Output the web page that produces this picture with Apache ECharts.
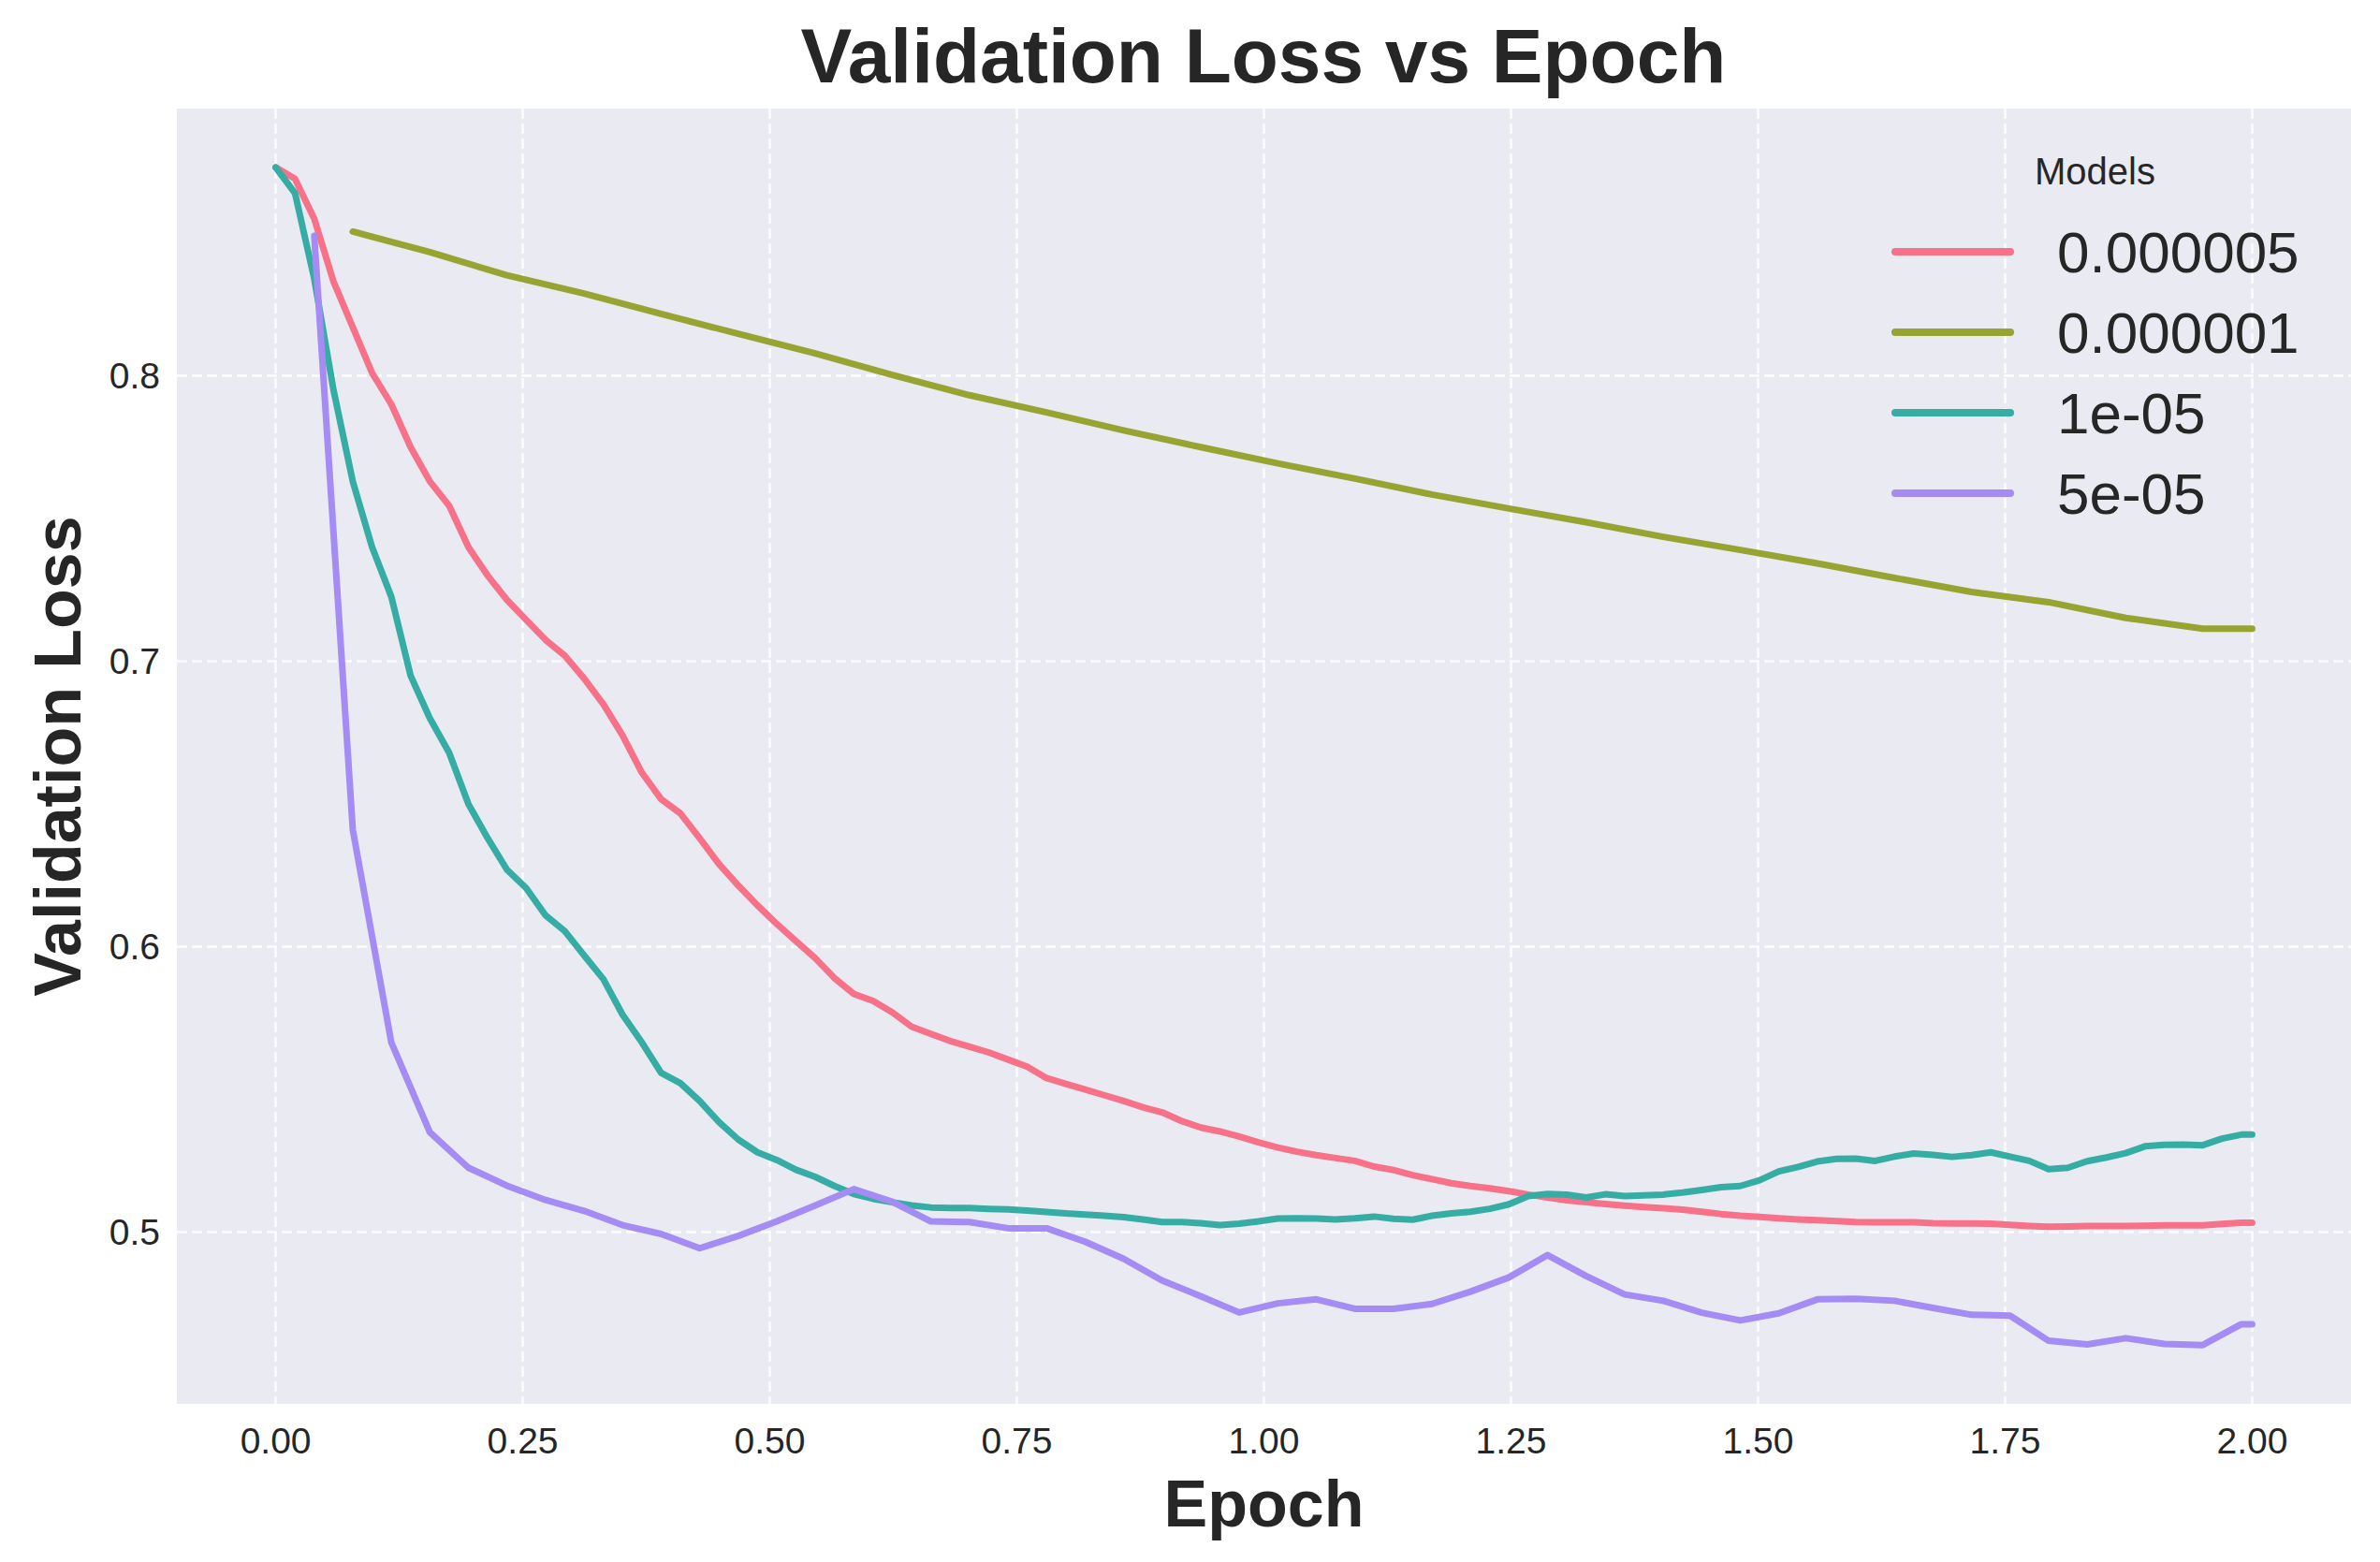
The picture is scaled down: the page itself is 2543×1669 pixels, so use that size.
<!DOCTYPE html>
<html>
<head>
<meta charset="utf-8">
<script src="https://cdn.jsdelivr.net/npm/echarts@6/dist/echarts.min.js"></script>
<style>
html,body{margin:0;padding:0;background:#ffffff;}
#chart{width:2543px;height:1669px;}
</style>
</head>
<body>
<div id="chart"></div>
<script>
// ---------- data ----------
const seriesNames = ['0.000005', '0.000001', '1e-05', '5e-05'];
const seriesColors = ['#f77189', '#97a431', '#36ada4', '#a48cf4'];

const xTicks = [0, 0.25, 0.5, 0.75, 1.0, 1.25, 1.5, 1.75, 2.0];
const yTicks = [0.5, 0.6, 0.7, 0.8];

// epochs for the 0.000005 and 1e-05 runs
const epochsFine = [0, 0.0195, 0.039, 0.0585, 0.078, 0.0975, 0.117, 0.1365, 0.156, 0.1755,
  0.195, 0.2145, 0.234, 0.2535, 0.273, 0.2925, 0.312, 0.3315, 0.351, 0.3705,
  0.39, 0.4095, 0.429, 0.4485, 0.468, 0.4875, 0.507, 0.5265, 0.546, 0.5655,
  0.585, 0.6045, 0.624, 0.6435, 0.663, 0.6825, 0.702, 0.7215, 0.741, 0.7605,
  0.78, 0.7995, 0.819, 0.8385, 0.858, 0.8775, 0.897, 0.9165, 0.936, 0.9555,
  0.975, 0.9945, 1.014, 1.0335, 1.053, 1.0725, 1.092, 1.1115, 1.131, 1.1505,
  1.17, 1.1895, 1.209, 1.2285, 1.248, 1.2675, 1.287, 1.3065, 1.326, 1.3455,
  1.365, 1.3845, 1.404, 1.4235, 1.443, 1.4625, 1.482, 1.5015, 1.521, 1.5405,
  1.56, 1.5795, 1.599, 1.6185, 1.638, 1.6575, 1.677, 1.6965, 1.716, 1.7355,
  1.755, 1.7745, 1.794, 1.8135, 1.833, 1.8525, 1.872, 1.8915, 1.911, 1.9305,
  1.95, 1.9695, 1.989, 2.0];

const loss_0_000005 = [0.873, 0.869, 0.855, 0.833, 0.817, 0.801, 0.790, 0.775, 0.763, 0.7545,
  0.740, 0.730, 0.7215, 0.7145, 0.7075, 0.702, 0.694, 0.685, 0.674, 0.661,
  0.6517, 0.6467, 0.638, 0.629, 0.6215, 0.6145, 0.608, 0.602, 0.596, 0.589,
  0.5835, 0.581, 0.577, 0.572, 0.5695, 0.567, 0.565, 0.563, 0.5605, 0.558,
  0.554, 0.552, 0.550, 0.548, 0.546, 0.5438, 0.542, 0.539, 0.5367, 0.5353,
  0.5335, 0.5315, 0.5297, 0.5282, 0.527, 0.526, 0.525, 0.523, 0.5218, 0.520,
  0.5186, 0.5172, 0.5162, 0.5154, 0.5144, 0.5132, 0.5122, 0.5112, 0.5105, 0.5099,
  0.5093, 0.5088, 0.5084, 0.5079, 0.5072, 0.5064, 0.5058, 0.5054, 0.5049, 0.5045,
  0.5042, 0.5039, 0.5036, 0.5035, 0.5035, 0.5035, 0.5032, 0.5031, 0.5031, 0.5030,
  0.5026, 0.5022, 0.5019, 0.5020, 0.5022, 0.5022, 0.5022, 0.5023, 0.5024, 0.5024,
  0.5024, 0.5029, 0.5033, 0.5033];

const loss_1e_05 = [0.873, 0.864, 0.834, 0.795, 0.763, 0.740, 0.7226, 0.695, 0.680, 0.668,
  0.650, 0.638, 0.627, 0.6205, 0.611, 0.6055, 0.597, 0.5887, 0.5762, 0.5665,
  0.5558, 0.5522, 0.546, 0.5386, 0.5325, 0.528, 0.5253, 0.5219, 0.5194, 0.5162,
  0.5134, 0.5117, 0.5105, 0.5094, 0.5087, 0.5085, 0.5085, 0.5082, 0.5080, 0.5076,
  0.5071, 0.5066, 0.5062, 0.5058, 0.5053, 0.5045, 0.5036, 0.5036, 0.5032, 0.5025,
  0.5030, 0.5038, 0.5048, 0.5049, 0.5048, 0.5045, 0.5049, 0.5055, 0.5047, 0.5044,
  0.5058, 0.5066, 0.5072, 0.5082, 0.5098, 0.5127, 0.5134, 0.5132, 0.5122, 0.5133,
  0.5127, 0.5129, 0.5132, 0.5139, 0.5148, 0.5158, 0.5162, 0.5182, 0.5213, 0.5229,
  0.5248, 0.5257, 0.5258, 0.5250, 0.5265, 0.5276, 0.5271, 0.5264, 0.5270, 0.5280,
  0.5265, 0.5250, 0.5221, 0.5226, 0.5249, 0.5262, 0.5277, 0.5301, 0.5306, 0.5307,
  0.5305, 0.5328, 0.5342, 0.5342];

// epochs for the 5e-05 run
const epochsMid = [0.039, 0.078, 0.117, 0.156, 0.195, 0.234, 0.273, 0.312, 0.351, 0.39,
  0.429, 0.468, 0.507, 0.546, 0.585, 0.624, 0.663, 0.702, 0.741, 0.78,
  0.819, 0.858, 0.897, 0.936, 0.975, 1.014, 1.053, 1.092, 1.131, 1.17,
  1.209, 1.248, 1.287, 1.326, 1.365, 1.404, 1.443, 1.482, 1.521, 1.56,
  1.599, 1.638, 1.677, 1.716, 1.755, 1.794, 1.833, 1.872, 1.911, 1.95,
  1.989, 2.0];

const loss_5e_05 = [0.849, 0.641, 0.5665, 0.535, 0.5226, 0.5163, 0.5113, 0.5075, 0.5025, 0.4994,
  0.4944, 0.4987, 0.5038, 0.5094, 0.5151, 0.5107, 0.5038, 0.5036, 0.5014, 0.5014,
  0.4967, 0.4907, 0.4831, 0.4776, 0.4719, 0.4751, 0.4765, 0.4732, 0.4732, 0.4749,
  0.4792, 0.4842, 0.4920, 0.4847, 0.4782, 0.4760, 0.4718, 0.4691, 0.4716, 0.4765,
  0.4767, 0.4760, 0.4735, 0.4711, 0.4708, 0.4620, 0.4607, 0.4629, 0.4609, 0.4605,
  0.4678, 0.4678];

// epochs for the 0.000001 run
const epochsCoarse = [0.078, 0.156, 0.234, 0.312, 0.39, 0.468, 0.546, 0.624, 0.702, 0.78,
  0.858, 0.936, 1.014, 1.092, 1.17, 1.248, 1.326, 1.404, 1.482, 1.56,
  1.638, 1.716, 1.794, 1.872, 1.95, 2.0];

const loss_0_000001 = [0.8505, 0.8433, 0.8352, 0.8288, 0.8217, 0.8147, 0.8078, 0.8003, 0.7932, 0.7872,
  0.7809, 0.7750, 0.7693, 0.7640, 0.7584, 0.7535, 0.7487, 0.7436, 0.7390, 0.7343,
  0.7292, 0.7243, 0.7207, 0.7152, 0.7114, 0.7114];

// ---------- chart ----------
const FONT = "'Liberation Sans', Arial, Helvetica, sans-serif";
const TEXT = '#262626';
const pairs = (xs, ys) => xs.map((x, i) => [x, ys[i]]);

const runData = [
  pairs(epochsFine, loss_0_000005),
  pairs(epochsCoarse, loss_0_000001),
  pairs(epochsFine, loss_1e_05),
  pairs(epochsMid, loss_5e_05)
];

const chart = echarts.init(document.getElementById('chart'), null, {renderer: 'svg'});

const gridLine = {show: true, lineStyle: {color: 'rgba(255,255,255,0.85)', width: 2.5, type: [11, 5]}};
const handleIcon = 'path://M4,0 L127,0 A4,4 0 0 1 127,8 L4,8 A4,4 0 0 1 4,0 Z';

const option = {
  animation: false,
  backgroundColor: '#ffffff',
  textStyle: {fontFamily: FONT, color: TEXT},
  title: [{
    text: 'Models',
    left: 2169,
    top: 158,
    textStyle: {fontFamily: FONT, fontSize: 40, fontWeight: 'normal', color: TEXT}
  }],
  graphic: [{
    type: 'text',
    x: 1350,
    y: 18,
    style: {
      text: 'Validation Loss vs Epoch',
      textAlign: 'center',
      textVerticalAlign: 'top',
      font: 'bold 82px ' + FONT,
      fill: TEXT
    }
  }],
  grid: {
    left: 189, right: 31, top: 116, bottom: 169,
    show: true, backgroundColor: '#eaeaf2', borderWidth: 0
  },
  legend: {
    orient: 'vertical',
    left: 2016,
    top: 233,
    icon: handleIcon,
    itemWidth: 131,
    itemHeight: 8,
    itemGap: 24,
    data: seriesNames,
    textStyle: {fontFamily: FONT, fontSize: 62, color: TEXT, padding: [0, 0, 0, 41]}
  },
  xAxis: {
    type: 'value',
    min: -0.1,
    max: 2.1,
    name: 'Epoch',
    nameLocation: 'middle',
    nameGap: 72,
    nameTextStyle: {fontFamily: FONT, fontSize: 70, fontWeight: 'bold', color: TEXT},
    axisLine: {show: false},
    axisTick: {show: false, customValues: xTicks},
    axisLabel: {customValues: xTicks, formatter: v => v.toFixed(2), fontSize: 39, color: TEXT, fontFamily: FONT, margin: 20},
    splitLine: gridLine
  },
  yAxis: {
    type: 'value',
    min: 0.4399,
    max: 0.8936,
    name: 'Validation Loss',
    nameLocation: 'middle',
    nameRotate: 90,
    nameGap: 92,
    nameTextStyle: {fontFamily: FONT, fontSize: 70, fontWeight: 'bold', color: TEXT},
    axisLine: {show: false},
    axisTick: {show: false, customValues: yTicks},
    axisLabel: {customValues: yTicks, formatter: v => v.toFixed(1), fontSize: 39, color: TEXT, fontFamily: FONT, margin: 18},
    splitLine: gridLine
  },
  series: seriesNames.map((name, i) => ({
    name: name,
    type: 'line',
    data: runData[i],
    symbol: 'none',
    showSymbol: false,
    color: seriesColors[i],
    itemStyle: {color: seriesColors[i]},
    lineStyle: {width: 7, color: seriesColors[i], cap: 'round', join: 'round'},
    z: 2 + i
  }))
};

chart.setOption(option);
</script>
</body>
</html>
